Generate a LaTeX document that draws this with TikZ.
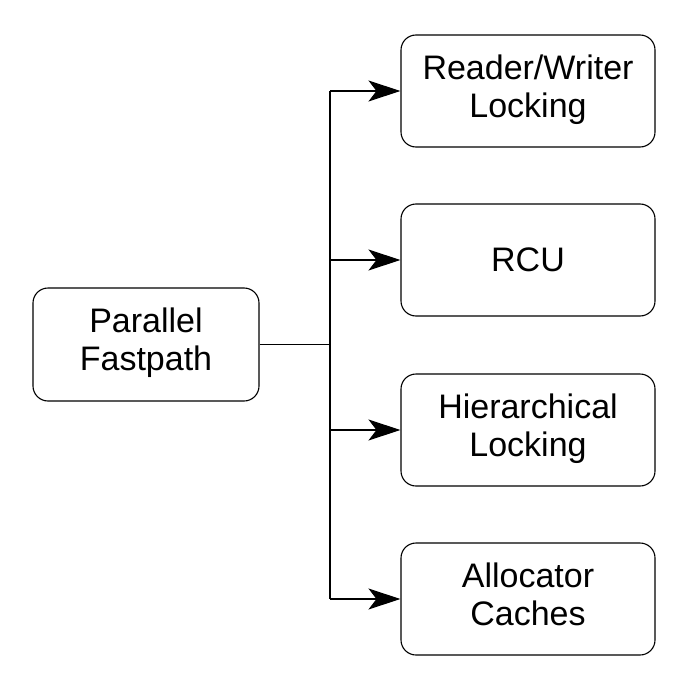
\documentclass[tikz,border=0pt]{standalone}
\usepackage{fontspec}
\setmainfont{Liberation Sans}
\usetikzlibrary{arrows.meta}
\begin{document}
\begin{tikzpicture}[x=1pt,y=-1pt,
  box/.style={draw, line width=1.1pt, rounded corners=15pt, align=center,
    font=\fontsize{34}{38}\selectfont, inner sep=0pt, text depth=10pt},
  conn/.style={line width=1.1pt},
  arr/.style={conn, -{Stealth[length=32pt,width=21pt,inset=8pt]}}]
\useasboundingbox (0,0) rectangle (682,682);
\node[box, minimum width=226pt, minimum height=113pt] (pf) at (146,344.5) {Parallel\\Fastpath};
\node[box, minimum width=254pt, minimum height=112pt] (rw) at (528,91) {Reader/Writer\\Locking};
\node[box, minimum width=254pt, minimum height=112pt, text depth=1pt] (rcu) at (528,260) {RCU};
\node[box, minimum width=254pt, minimum height=112pt] (hl) at (528,430) {Hierarchical\\Locking};
\node[box, minimum width=254pt, minimum height=112pt] (ac) at (528,599) {Allocator\\Caches};
\coordinate (j) at (330,344.5);
\coordinate (jt) at (330,91);
\coordinate (jb) at (330,599);
\draw[conn] (pf.east) -- (j);
\draw[conn] (jt) -- (jb);
\draw[arr] (jt) -- (rw.west);
\draw[arr] (330,260) -- (rcu.west);
\draw[arr] (330,430) -- (hl.west);
\draw[arr] (jb) -- (ac.west);
\end{tikzpicture}
\end{document}
